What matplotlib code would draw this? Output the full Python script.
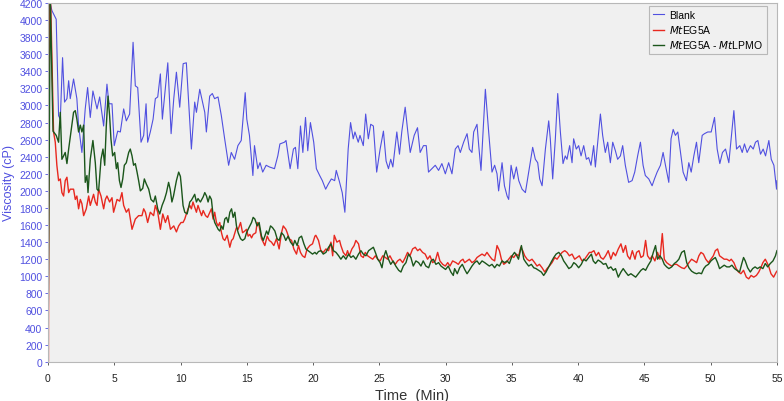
import matplotlib
matplotlib.use("Agg")
import matplotlib.pyplot as plt

# viscosity readings (cP) vs time (min)
blank_t = [0.0, 0.08, 0.3, 0.62, 0.8, 0.93, 1.1, 1.25, 1.43, 1.56, 1.68, 1.93, 2.18, 2.31, 2.56, 2.81,
           2.99, 3.19, 3.39, 3.7, 3.9, 4.2, 4.45, 4.6, 4.83, 5.0, 5.26, 5.46, 5.71, 5.91, 6.16, 6.42,
           6.59, 6.77, 7.02, 7.22, 7.4, 7.52, 7.72, 7.93, 8.1, 8.28, 8.48, 8.63, 8.86, 9.04, 9.29, 9.49,
           9.69, 9.94, 10.2, 10.44, 10.82, 11.07, 11.2, 11.45, 11.83, 11.95, 12.2, 12.4, 12.57, 12.83,
           13.08, 13.33, 13.63, 13.83, 14.08, 14.33, 14.58, 14.88, 15.0, 15.2, 15.46, 15.58, 15.83, 16.0,
           16.2, 16.46, 16.71, 17.09, 17.34, 17.5, 17.84, 17.96, 18.27, 18.52, 18.67, 18.85, 19.05, 19.23,
           19.43, 19.6, 19.8, 20.05, 20.25, 20.5, 20.7, 20.95, 21.15, 21.38, 21.63, 21.75, 21.97, 22.2,
           22.4, 22.65, 22.83, 23.03, 23.16, 23.41, 23.54, 23.79, 23.97, 24.17, 24.35, 24.55, 24.8, 25.06,
           25.31, 25.51, 25.69, 25.86, 26.02, 26.32, 26.52, 26.7, 26.95, 27.15, 27.33, 27.63, 27.88, 28.08,
           28.33, 28.54, 28.71, 28.97, 29.22, 29.47, 29.72, 29.98, 30.23, 30.48, 30.73, 30.94, 31.11, 31.36,
           31.62, 31.79, 31.99, 32.12, 32.37, 32.5, 32.67, 33.0, 33.25, 33.5, 33.7, 33.88, 34.0, 34.26,
           34.44, 34.64, 34.76, 34.94, 35.14, 35.34, 35.52, 35.77, 36.02, 36.27, 36.57, 36.77, 36.95, 37.1,
           37.28, 37.53, 37.78, 37.9, 38.08, 38.28, 38.46, 38.66, 38.86, 39.03, 39.16, 39.36, 39.54, 39.66,
           39.86, 40.04, 40.22, 40.42, 40.62, 40.79, 40.97, 41.17, 41.3, 41.5, 41.68, 41.85, 42.05, 42.23,
           42.43, 42.61, 42.81, 42.98, 43.19, 43.36, 43.56, 43.81, 44.07, 44.27, 44.49, 44.7, 44.9, 45.07,
           45.33, 45.58, 45.76, 45.96, 46.21, 46.41, 46.59, 46.84, 47.01, 47.17, 47.34, 47.52, 47.72, 47.92,
           48.17, 48.35, 48.53, 48.73, 48.93, 49.1, 49.36, 49.53, 49.78, 50.04, 50.29, 50.49, 50.69, 50.89,
           51.12, 51.37, 51.75, 51.95, 52.2, 52.38, 52.55, 52.75, 53.0, 53.21, 53.38, 53.56, 53.76, 53.96,
           54.14, 54.39, 54.57, 54.77, 54.97, 55.0]
blank_v = [0, 4250, 4110, 4010, 2880, 2840, 3560, 3040, 3080, 3290, 3080, 3310, 3080, 2760, 2450, 2960,
           3210, 2860, 3170, 2960, 3100, 2760, 3250, 3020, 3020, 2530, 2700, 2690, 2960, 2820, 2900, 3740,
           3230, 3210, 2570, 2650, 3020, 2570, 2690, 2840, 3080, 3100, 3370, 2840, 3210, 3500, 2670, 3080,
           3390, 2980, 3490, 3500, 2490, 3040, 2920, 3190, 2920, 2690, 3110, 3140, 3080, 3100,
           2880, 2610, 2300, 2450, 2370, 2530, 2590, 3150, 2840, 2650, 2180, 2530, 2260, 2330,
           2220, 2300, 2280, 2260, 2410, 2550, 2570, 2590, 2260, 2490, 2510, 2260, 2760, 2450,
           2860, 2470, 2800, 2570, 2260, 2180, 2120, 2020, 2080, 2140, 2120, 2240, 2120, 1980,
           1750, 2490, 2800, 2610, 2690, 2570, 2650, 2530, 2900, 2610, 2780, 2760, 2220, 2490,
           2700, 2350, 2260, 2370, 2280, 2690, 2430, 2700, 2980, 2690, 2450, 2650, 2740, 2450,
           2530, 2530, 2220, 2260, 2300, 2240, 2320, 2200, 2330, 2200, 2490, 2530, 2450, 2570,
           2670, 2490, 2450, 2690, 2780, 2530, 2240, 3190, 2690, 2220, 2300, 2200, 2000, 2330,
           2060, 1940, 1900, 2300, 2140, 2280, 2120, 2020, 1980, 2220, 2510, 2370, 2330, 2140,
           2060, 2490, 2820, 2610, 2140, 2610, 3140, 2690, 2320, 2410, 2370, 2530, 2330, 2610,
           2490, 2530, 2410, 2530, 2370, 2390, 2300, 2530, 2280, 2610, 2900, 2650, 2450, 2570,
           2330, 2570, 2470, 2370, 2410, 2530, 2300, 2100, 2120, 2220, 2410, 2570, 2300, 2180,
           2140, 2060, 2140, 2220, 2300, 2450, 2300, 2100, 2610, 2720, 2650, 2690, 2450, 2220,
           2120, 2330, 2220, 2410, 2570, 2330, 2650, 2670, 2690, 2690, 2860, 2490, 2320, 2450,
           2490, 2330, 2940, 2490, 2530, 2450, 2550, 2450, 2530, 2490, 2570, 2590, 2430, 2490,
           2410, 2590, 2370, 2300, 2020, 2120]

red_t = [0.0, 0.03, 0.12, 0.22, 0.42, 0.55, 0.67, 0.8, 0.93, 1.05, 1.18, 1.3, 1.43, 1.56, 1.68, 1.93,
         2.06, 2.18, 2.31, 2.44, 2.56, 2.69, 2.89, 3.07, 3.19, 3.32, 3.44, 3.57, 3.7, 3.82, 4.0, 4.2,
         4.33, 4.45, 4.65, 4.83, 4.95, 5.21, 5.41, 5.58, 5.71, 5.91, 6.09, 6.34, 6.59, 6.84, 7.09, 7.22,
         7.35, 7.52, 7.72, 7.97, 8.1, 8.28, 8.48, 8.66, 8.86, 9.04, 9.24, 9.49, 9.69, 9.86, 10.04, 10.19,
         10.32, 10.44, 10.57, 10.7, 10.82, 10.94, 11.07, 11.2, 11.32, 11.45, 11.59, 11.71, 11.89, 12.04,
         12.33, 12.46, 12.58, 12.71, 12.84, 12.96, 13.09, 13.21, 13.34, 13.52, 13.72, 13.85, 13.97, 14.1,
         14.22, 14.35, 14.53, 14.68, 14.85, 14.98, 15.1, 15.23, 15.36, 15.48, 15.68, 15.78, 15.93, 16.11,
         16.24, 16.36, 16.54, 16.69, 16.86, 17.04, 17.24, 17.44, 17.62, 17.75, 17.95, 18.05, 18.2, 18.38,
         18.55, 18.75, 18.9, 19.05, 19.2, 19.38, 19.55, 19.76, 19.96, 20.14, 20.21, 20.41, 20.59, 20.77,
         20.97, 21.17, 21.35, 21.48, 21.6, 21.8, 22.0, 22.1, 22.28, 22.48, 22.6, 22.73, 22.93, 23.1,
         23.23, 23.43, 23.61, 23.79, 23.94, 24.12, 24.3, 24.5, 24.7, 24.88, 25.06, 25.26, 25.46, 25.62,
         25.8, 26.0, 26.2, 26.38, 26.56, 26.76, 26.96, 27.13, 27.31, 27.51, 27.71, 27.89, 28.06, 28.26,
         28.46, 28.64, 28.82, 29.02, 29.22, 29.4, 29.57, 29.78, 29.98, 30.16, 30.33, 30.53, 30.78, 30.96,
         31.13, 31.31, 31.44, 31.62, 31.79, 31.99, 32.19, 32.37, 32.55, 32.75, 32.95, 33.12, 33.3, 33.5,
         33.7, 33.88, 34.06, 34.21, 34.39, 34.56, 34.76, 34.96, 35.14, 35.32, 35.52, 35.67, 35.82, 35.97,
         36.15, 36.32, 36.52, 36.72, 36.9, 37.08, 37.28, 37.48, 37.65, 37.83, 38.03, 38.24, 38.41, 38.59,
         38.79, 38.99, 39.16, 39.34, 39.54, 39.74, 39.92, 40.09, 40.29, 40.49, 40.67, 40.85, 41.0, 41.19,
         41.36, 41.54, 41.71, 41.89, 42.07, 42.27, 42.47, 42.65, 42.82, 43.03, 43.23, 43.4, 43.58, 43.73,
         43.91, 44.09, 44.29, 44.41, 44.59, 44.74, 44.92, 45.09, 45.24, 45.42, 45.59, 45.79, 45.99, 46.17,
         46.35, 46.5, 46.68, 46.85, 47.06, 47.26, 47.43, 47.61, 47.81, 48.01, 48.19, 48.36, 48.56, 48.76,
         48.94, 49.11, 49.27, 49.45, 49.63, 49.83, 50.02, 50.2, 50.35, 50.52, 50.67, 50.85, 51.02, 51.22,
         51.42, 51.55, 51.75, 51.93, 52.1, 52.28, 52.48, 52.69, 52.87, 53.05, 53.25, 53.45, 53.63, 53.81,
         53.94, 54.12, 54.25, 54.37, 54.55, 54.75, 54.95, 55.0]
red_v = [2300, 0, 4500, 4100, 2690, 2570, 2300, 2120, 2140, 1980, 1940, 2120, 2160, 1980, 2020, 2020,
         1900, 1940, 1790, 1900, 1850, 1710, 1790, 1940, 1830, 1900, 1960, 1870, 1830, 2020, 1940, 1790,
         1900, 1940, 1870, 1920, 1750, 1900, 1880, 1980, 1830, 1750, 1790, 1550, 1670, 1710, 1710, 1790,
         1750, 1630, 1750, 1710, 1830, 1750, 1550, 1730, 1630, 1710, 1550, 1590, 1520, 1590, 1630, 1630,
         1670, 1730, 1790, 1830, 1790, 1870, 1810, 1750, 1830, 1770, 1710, 1770, 1710, 1690,
         1790, 1670, 1750, 1630, 1590, 1630, 1510, 1440, 1420, 1480, 1340, 1420, 1440, 1510,
         1570, 1550, 1630, 1510, 1530, 1550, 1470, 1490, 1450, 1490, 1510, 1630, 1590, 1440,
         1400, 1360, 1470, 1420, 1400, 1360, 1440, 1320, 1510, 1590, 1550, 1510, 1440, 1420,
         1320, 1260, 1360, 1280, 1240, 1220, 1320, 1360, 1380, 1470, 1480, 1420, 1300, 1280,
         1320, 1300, 1400, 1240, 1480, 1400, 1420, 1360, 1280, 1240, 1300, 1240, 1320, 1360,
         1420, 1380, 1240, 1220, 1280, 1240, 1220, 1200, 1240, 1200, 1180, 1240, 1220, 1200,
         1240, 1180, 1140, 1180, 1200, 1160, 1220, 1280, 1240, 1320, 1340, 1300, 1320, 1280,
         1260, 1200, 1240, 1160, 1180, 1280, 1180, 1140, 1120, 1160, 1120, 1180, 1160, 1140,
         1180, 1200, 1160, 1180, 1200, 1160, 1180, 1220, 1240, 1260, 1240, 1280, 1240, 1200,
         1180, 1360, 1300, 1200, 1140, 1160, 1200, 1240, 1220, 1260, 1240, 1340, 1300, 1240,
         1200, 1180, 1200, 1160, 1120, 1140, 1100, 1050, 1090, 1120, 1160, 1220, 1200, 1240,
         1280, 1300, 1280, 1240, 1260, 1200, 1220, 1240, 1180, 1200, 1240, 1280, 1280, 1300,
         1240, 1280, 1220, 1200, 1240, 1300, 1200, 1280, 1240, 1320, 1380, 1280, 1360, 1240,
         1200, 1300, 1200, 1280, 1300, 1220, 1240, 1420, 1240, 1200, 1240, 1180, 1280, 1200,
         1500, 1200, 1160, 1140, 1120, 1140, 1140, 1120, 1100, 1090, 1120, 1160, 1200, 1180,
         1160, 1240, 1280, 1260, 1200, 1160, 1200, 1240, 1300, 1320, 1240, 1220, 1200, 1200,
         1180, 1200, 1160, 1090, 1050, 1030, 1070, 990, 970, 1010, 990, 1010, 1050, 1110,
         1160, 1200, 1160, 1120, 1030, 990, 1050, 1060]

green_t = [0.0, 0.17, 0.38, 0.62, 0.8, 0.93, 1.05, 1.18, 1.3, 1.43, 1.56, 1.73, 1.93, 2.06, 2.18, 2.31,
           2.44, 2.56, 2.69, 2.81, 2.94, 3.02, 3.19, 3.39, 3.57, 3.7, 3.82, 4.0, 4.15, 4.28, 4.4, 4.53,
           4.65, 4.75, 4.88, 5.03, 5.16, 5.26, 5.39, 5.51, 5.64, 5.76, 5.91, 6.09, 6.21, 6.34, 6.46, 6.59,
           6.72, 6.84, 6.97, 7.15, 7.27, 7.42, 7.6, 7.77, 7.97, 8.1, 8.28, 8.43, 8.61, 8.79, 8.94, 9.1,
           9.22, 9.35, 9.47, 9.69, 9.86, 9.99, 10.06, 10.19, 10.32, 10.5, 10.7, 10.82, 11.07, 11.2,
           11.32, 11.5, 11.71, 11.83, 11.96, 12.08, 12.2, 12.33, 12.46, 12.58, 12.71, 12.84, 12.96, 13.09,
           13.21, 13.34, 13.47, 13.59, 13.72, 13.85, 13.97, 14.1, 14.22, 14.35, 14.53, 14.68, 14.85, 14.98,
           15.1, 15.23, 15.36, 15.48, 15.61, 15.78, 15.93, 16.11, 16.24, 16.36, 16.49, 16.61, 16.79, 16.94,
           17.12, 17.29, 17.44, 17.62, 17.79, 17.94, 18.12, 18.3, 18.5, 18.62, 18.8, 18.95, 19.13, 19.31,
           19.46, 19.63, 19.81, 19.96, 20.14, 20.26, 20.41, 20.59, 20.77, 20.97, 21.17, 21.35, 21.53, 21.73,
           21.93, 22.1, 22.28, 22.48, 22.68, 22.86, 23.03, 23.23, 23.43, 23.61, 23.79, 23.99, 24.19, 24.37,
           24.55, 24.7, 24.88, 25.06, 25.2, 25.36, 25.49, 25.69, 25.86, 26.04, 26.24, 26.46, 26.63, 26.81,
           27.01, 27.2, 27.38, 27.56, 27.76, 27.96, 28.14, 28.31, 28.51, 28.72, 28.9, 29.07, 29.27, 29.47,
           29.65, 29.82, 30.0, 30.2, 30.4, 30.58, 30.68, 30.88, 31.06, 31.26, 31.44, 31.62, 31.79, 31.99,
           32.19, 32.37, 32.55, 32.75, 32.95, 33.12, 33.3, 33.5, 33.7, 33.88, 34.06, 34.26, 34.46, 34.64,
           34.81, 35.02, 35.2, 35.37, 35.5, 35.72, 35.9, 36.07, 36.27, 36.47, 36.65, 36.82, 37.02, 37.22,
           37.4, 37.58, 37.78, 37.98, 38.16, 38.34, 38.54, 38.74, 38.91, 39.09, 39.3, 39.49, 39.67, 39.84,
           40.04, 40.24, 40.42, 40.6, 40.8, 41.0, 41.14, 41.31, 41.51, 41.71, 41.91, 42.09, 42.27, 42.47,
           42.65, 42.82, 43.03, 43.23, 43.4, 43.58, 43.78, 43.98, 44.16, 44.34, 44.54, 44.74, 44.91, 45.09,
           45.29, 45.49, 45.67, 45.84, 45.99, 46.17, 46.35, 46.5, 46.68, 46.85, 47.06, 47.26, 47.43, 47.6,
           47.81, 48.01, 48.19, 48.36, 48.56, 48.76, 48.94, 49.11, 49.31, 49.48, 49.63, 49.83, 50.02, 50.17,
           50.35, 50.52, 50.67, 50.85, 51.02, 51.22, 51.42, 51.6, 51.8, 51.98, 52.18, 52.35, 52.48, 52.61,
           52.79, 52.99, 53.17, 53.35, 53.53, 53.73, 53.94, 54.12, 54.3, 54.5, 54.7, 54.89, 55.0]
green_v = [0, 4300, 2700, 2650, 2570, 2920, 2370, 2410, 2450, 2320, 2490, 2690, 2920, 2940, 2840, 2690,
           2770, 2690, 2770, 2100, 2180, 1980, 2370, 2590, 2330, 2020, 2000, 2370, 2490, 2300, 2760, 3110,
           2880, 2610, 2410, 2450, 2260, 2330, 2120, 2040, 2140, 2300, 2330, 2450, 2490, 2410, 2300, 2320,
           2220, 2120, 2000, 2030, 2140, 2080, 2020, 1900, 1870, 1940, 1790, 1730, 1830, 1900, 1980, 2100,
           2020, 1870, 1940, 2120, 2220, 2170, 2060, 1830, 1750, 1730, 1870, 1890, 1960, 1870,
           1910, 1870, 1930, 1980, 1940, 1870, 1940, 1900, 1710, 1630, 1590, 1550, 1530, 1590,
           1550, 1670, 1690, 1630, 1750, 1790, 1690, 1750, 1590, 1510, 1440, 1420, 1440, 1510,
           1550, 1590, 1630, 1690, 1670, 1590, 1630, 1470, 1420, 1470, 1530, 1490, 1590, 1570,
           1530, 1440, 1420, 1510, 1480, 1420, 1470, 1400, 1360, 1420, 1360, 1450, 1470, 1380,
           1320, 1300, 1280, 1260, 1280, 1260, 1290, 1300, 1260, 1280, 1340, 1380, 1300, 1280,
           1240, 1200, 1240, 1200, 1260, 1220, 1240, 1200, 1260, 1300, 1260, 1240, 1300, 1320,
           1340, 1280, 1200, 1160, 1100, 1240, 1300, 1200, 1140, 1180, 1120, 1070, 1050, 1120,
           1160, 1260, 1220, 1120, 1180, 1160, 1120, 1180, 1120, 1100, 1180, 1200, 1140, 1160,
           1120, 1100, 1080, 1120, 1050, 1010, 1090, 1030, 1100, 1140, 1080, 1030, 1070, 1120,
           1160, 1180, 1140, 1180, 1160, 1140, 1120, 1140, 1100, 1140, 1120, 1180, 1160, 1180,
           1150, 1240, 1280, 1240, 1200, 1360, 1200, 1160, 1120, 1140, 1100, 1090, 1070, 1050,
           1010, 1050, 1110, 1170, 1220, 1260, 1280, 1240, 1180, 1140, 1090, 1110, 1160, 1140,
           1100, 1140, 1200, 1180, 1220, 1260, 1180, 1150, 1190, 1170, 1140, 1150, 1090, 1110,
           1070, 1090, 990, 1050, 1090, 1050, 1010, 1030, 1010, 990, 1030, 1070, 1090, 1070,
           1130, 1180, 1280, 1360, 1200, 1240, 1200, 1140, 1110, 1090, 1110, 1150, 1170, 1200,
           1280, 1300, 1160, 1100, 1060, 1040, 1030, 1040, 1030, 1090, 1120, 1140, 1180, 1200,
           1220, 1160, 1090, 1110, 1130, 1110, 1110, 1130, 1090, 1070, 1050, 1150, 1220, 1180,
           1100, 1050, 1090, 1110, 1090, 1110, 1090, 1150, 1110, 1150, 1180, 1240, 1300]

BLUE = "#5050e0"
RED = "#e8281f"
GREEN = "#1b561b"

plt.rcParams["font.family"] = ["Liberation Sans", "DejaVu Sans"]

fig = plt.figure(figsize=(7.84, 4.02), dpi=100)
ax = fig.add_axes([0.0612, 0.0978, 0.9298, 0.8922])
ax.set_facecolor("#f0f0f0")

ax.plot(blank_t, blank_v, color=BLUE, lw=0.8, label="Blank")
ax.plot(red_t, red_v, color=RED, lw=1.0, label=r"$\mathit{Mt}$EG5A")
ax.plot(green_t, green_v, color=GREEN, lw=1.0, label=r"$\mathit{Mt}$EG5A - $\mathit{Mt}$LPMO")

ax.set_xlim(0, 55)
ax.set_ylim(0, 4200)
ax.set_xticks(range(0, 56, 5))
ax.set_yticks(range(0, 4201, 200))
ax.tick_params(axis="y", colors=BLUE, labelsize=7.5, length=2, width=0.6, pad=2)
ax.tick_params(axis="x", colors="#444444", labelcolor="#222222", labelsize=7.5, length=2, width=0.6, pad=6)
for s in ax.spines.values():
    s.set_color("#b8b8b8")
    s.set_linewidth(0.8)

ax.set_xlabel("Time  (Min)", fontsize=10.5, color="#333333", labelpad=4)
ax.set_ylabel("Viscosity (cP)", fontsize=9, color=BLUE, labelpad=3)

leg = ax.legend(loc="upper right", bbox_to_anchor=(0.986, 0.992), fontsize=7.5,
                handlelength=1.0, handletextpad=0.5, borderpad=0.4, labelspacing=0.3,
                fancybox=False, framealpha=1, borderaxespad=0)
leg.get_frame().set_facecolor("#f0f0f0")
leg.get_frame().set_edgecolor("#b8b8b8")
leg.get_frame().set_linewidth(0.8)

fig.savefig("out.png", dpi=100)
